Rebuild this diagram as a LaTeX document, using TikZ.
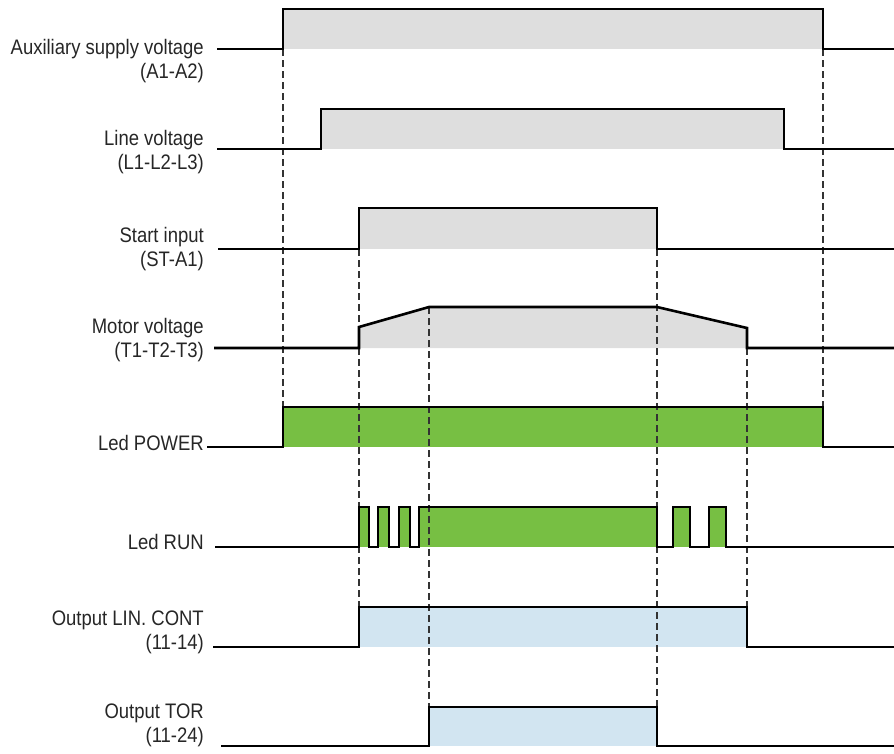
\documentclass[tikz,border=0pt]{standalone}
\usepackage{fontspec}
\setmainfont{Liberation Sans}[FakeStretch=0.88]
\usepackage{xcolor}
\definecolor{sigfill}{HTML}{DEDEDE}
\definecolor{ledgreen}{HTML}{77BF43}
\definecolor{outblue}{HTML}{D2E5F1}

\begin{document}
\begin{tikzpicture}[x=1pt, y=-1pt,
    sig/.style={line width=2.6pt, line join=miter, black},
    guide/.style={line width=2pt, black!80, dash pattern=on 7pt off 4pt},
    lbl/.style={anchor=base east, align=right, inner sep=0pt,
                font=\fontsize{21}{23.5}\selectfont, text=black!85},
    greyfill/.style={fill=sigfill},
    ledfill/.style={fill=ledgreen},
    outfill/.style={fill=outblue},
]
\useasboundingbox (0,0) rectangle (894,753);

% ===== labels =====
\node[lbl] (aux)   at (204, 78)  {Auxiliary supply voltage\\(A1-A2)};
\node[lbl] (line)  at (204, 169) {Line voltage\\(L1-L2-L3)};
\node[lbl] (start) at (204, 266) {Start input\\(ST-A1)};
\node[lbl] (motor) at (204, 357) {Motor voltage\\(T1-T2-T3)};
\node[lbl] (power) at (204, 450) {Led POWER};
\node[lbl] (run)   at (204, 549) {Led RUN};
\node[lbl] (lin)   at (204, 649) {Output LIN. CONT\\(11-14)};
\node[lbl] (tor)   at (204, 742) {Output TOR\\(11-24)};

% ===== fills =====
\fill[greyfill] (283, 9) rectangle (823, 49);
\fill[greyfill] (321, 109) rectangle (784, 149);
\fill[greyfill] (359, 208) rectangle (657, 249);
\fill[greyfill] (359, 348) -- (359, 327) -- (429, 307) -- (657, 307) -- (747, 328) -- (747, 348) -- cycle;
\fill[ledfill] (283, 407) rectangle (823, 447);
\foreach \a/\b in {359/369, 378/389, 399/410, 419/657, 673/690, 709/726}
  \fill[ledfill] (\a, 507) rectangle (\b, 547);
\fill[outfill] (359, 607) rectangle (747, 647);
\fill[outfill] (429, 707) rectangle (657, 746);

% ===== dashed guides =====
\draw[guide] (283, 49)  -- (283, 407);
\draw[guide] (823, 49)  -- (823, 407);
\draw[guide] (359, 249) -- (359, 607);
\draw[guide] (429, 307) -- (429, 707);
\draw[guide] (657, 249) -- (657, 707);
\draw[guide] (747, 348) -- (747, 607);

% ===== signals =====
\draw[sig] (217, 49) -- (283, 49) -- (283, 9) -- (823, 9) -- (823, 49) -- (894, 49);
\draw[sig] (217, 149) -- (321, 149) -- (321, 109) -- (784, 109) -- (784, 149) -- (894, 149);
\draw[sig] (218, 249) -- (359, 249) -- (359, 208) -- (657, 208) -- (657, 249) -- (894, 249);
\draw[sig] (214, 348) -- (359, 348) -- (359, 327) -- (429, 307) -- (657, 307) -- (747, 328) -- (747, 348) -- (894, 348);
\draw[sig] (207, 447) -- (283, 447) -- (283, 407) -- (823, 407) -- (823, 447) -- (894, 447);
\draw[sig] (215, 547) -- (359, 547) -- (359, 507) -- (369, 507) -- (369, 547) -- (378, 547) -- (378, 507)
  -- (389, 507) -- (389, 547) -- (399, 547) -- (399, 507) -- (410, 507) -- (410, 547) -- (419, 547)
  -- (419, 507) -- (657, 507) -- (657, 547) -- (673, 547) -- (673, 507) -- (690, 507) -- (690, 547)
  -- (709, 547) -- (709, 507) -- (726, 507) -- (726, 547) -- (894, 547);
\draw[sig] (213, 647) -- (359, 647) -- (359, 607) -- (747, 607) -- (747, 647) -- (894, 647);
\draw[sig] (221, 746) -- (429, 746) -- (429, 707) -- (657, 707) -- (657, 746) -- (894, 746);
\end{tikzpicture}
\end{document}
